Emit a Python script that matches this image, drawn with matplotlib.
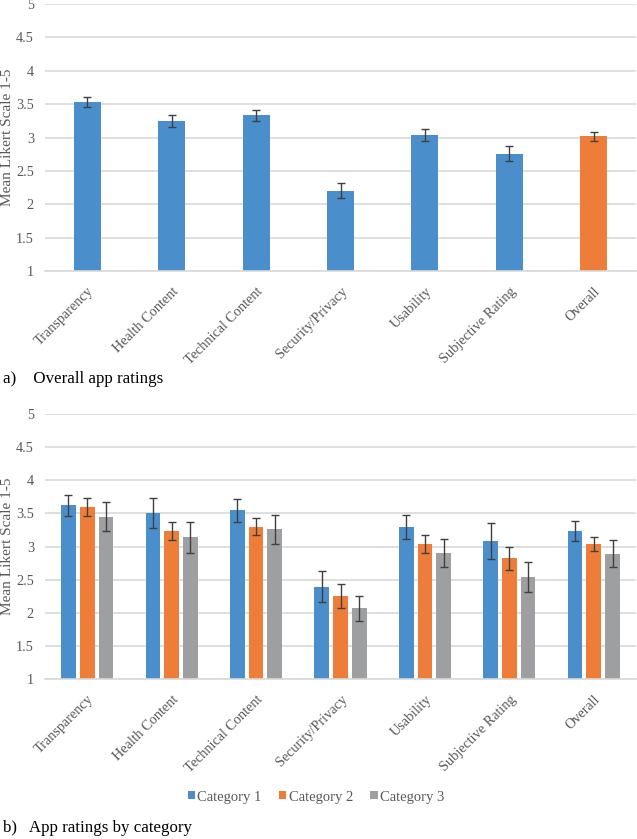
import matplotlib
matplotlib.use("Agg")
import matplotlib.pyplot as plt
import numpy as np

categories = ["Transparency", "Health Content", "Technical Content", "Security/Privacy",
              "Usability", "Subjective Rating", "Overall"]
overall_means = [3.53, 3.245, 3.33, 2.205, 3.035, 2.76, 3.02]
overall_err = [0.075, 0.095, 0.077, 0.11, 0.085, 0.115, 0.065]

series_names = ["Category 1", "Category 2", "Category 3"]
cat1_means = [3.62, 3.51, 3.545, 2.394, 3.288, 3.08, 3.237]
cat1_err = [0.154, 0.227, 0.174, 0.237, 0.18, 0.27, 0.15]
cat2_means = [3.595, 3.23, 3.30, 2.253, 3.04, 2.82, 3.035]
cat2_err = [0.13, 0.139, 0.124, 0.18, 0.14, 0.18, 0.11]
cat3_means = [3.45, 3.14, 3.26, 2.07, 2.90, 2.535, 2.894]
cat3_err = [0.216, 0.232, 0.22, 0.187, 0.21, 0.225, 0.2]

yticks = [1, 1.5, 2, 2.5, 3, 3.5, 4, 4.5, 5]
ytick_labels = ["1", "1.5", "2", "2.5", "3", "3.5", "4", "4.5", "5"]

BLUE = "#4a8fcb"
ORANGE = "#ed7d38"
GRAY = "#9d9fa1"
TXT = "#595959"
GRID = "#d9d9d9"
ERR = "#404040"

plt.rcParams['font.family'] = ['Liberation Serif', 'DejaVu Serif']

W, H = 637, 839
fig = plt.figure(figsize=(W / 100, H / 100), dpi=100)

def style(ax):
    ax.set_ylim(1, 5)
    ax.set_xlim(-0.5, len(categories) - 0.5)
    ax.set_yticks(yticks)
    ax.set_yticklabels(ytick_labels, color=TXT, fontsize=10.3)
    ax.yaxis.grid(True, color=GRID, linewidth=1.2)
    ax.set_axisbelow(True)
    for s in ["top", "right", "left"]:
        ax.spines[s].set_visible(False)
    ax.spines["bottom"].set_color(GRID)
    ax.spines["bottom"].set_linewidth(1.2)
    ax.tick_params(axis="y", length=0, pad=8)
    ax.tick_params(axis="x", length=0, pad=10)
    ax.set_xticks(np.arange(len(categories)))
    ax.set_xticklabels(categories, rotation=45, ha="right", rotation_mode="anchor",
                       color=TXT, fontsize=10.3)
    ax.set_ylabel("Mean Likert Scale 1-5", color=TXT, fontsize=11)
    ax.yaxis.set_label_coords(-31 / 591, 0.5)

# Top axes
ax1 = fig.add_axes([45 / W, 1 - 271 / H, 591 / W, 267 / H])
x = np.arange(len(categories))
colors1 = [BLUE] * (len(categories) - 1) + [ORANGE]
ax1.bar(x, overall_means, width=0.32, color=colors1, zorder=2)
ax1.errorbar(x, overall_means, yerr=overall_err, fmt="none", ecolor=ERR,
             elinewidth=1, capsize=3, capthick=1, zorder=3)
style(ax1)

# Bottom axes
ax2 = fig.add_axes([45 / W, 1 - 679 / H, 591 / W, 265 / H])
bw = 0.174
off = 0.222
for i, (m, e, c, n) in enumerate(zip([cat1_means, cat2_means, cat3_means],
                                     [cat1_err, cat2_err, cat3_err],
                                     [BLUE, ORANGE, GRAY], series_names)):
    xs = x + (i - 1) * off
    ax2.bar(xs, m, width=bw, color=c, label=n, zorder=2)
    ax2.errorbar(xs, m, yerr=e, fmt="none", ecolor=ERR, elinewidth=1,
                 capsize=3, capthick=1, zorder=3)
style(ax2)

leg = fig.legend(loc="center", bbox_to_anchor=(316 / W, 1 - 797 / H), ncol=3,
                 frameon=False, fontsize=10.5, handlelength=0.5, handleheight=0.5,
                 handletextpad=0.15, columnspacing=1.2)
for t in leg.get_texts():
    t.set_color(TXT)

fig.text(3 / W, 1 - 379 / H, "a)    Overall app ratings", fontsize=12.2, color="black",
         va="center", ha="left")
fig.text(3 / W, 1 - 828 / H, "b)   App ratings by category", fontsize=12.2, color="black",
         va="center", ha="left")

fig.savefig("out.png", dpi=100)
